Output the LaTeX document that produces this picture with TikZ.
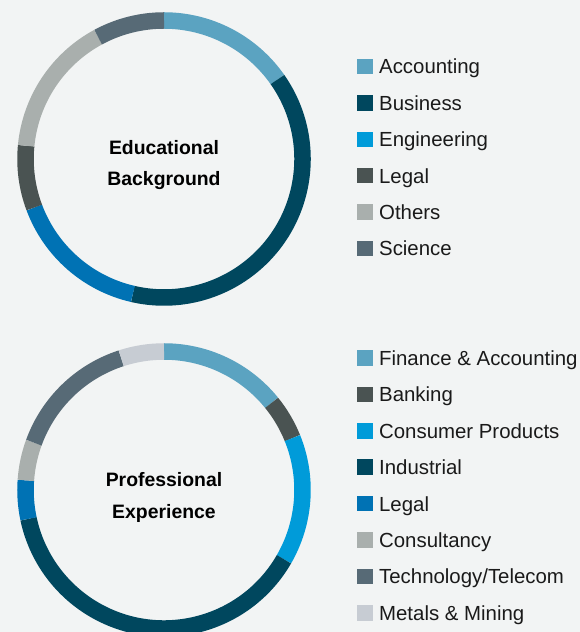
\documentclass[tikz,border=0pt]{standalone}
\usepackage{fontspec}
\setmainfont{Liberation Sans}
\usetikzlibrary{positioning}

\definecolor{bggray}{HTML}{F2F4F4}
\definecolor{accblue}{HTML}{5BA3C1}
\definecolor{darkteal}{HTML}{00475E}
\definecolor{brightblue}{HTML}{009BD9}
\definecolor{midblue}{HTML}{0072B4}
\definecolor{darkgray}{HTML}{4A5352}
\definecolor{lightgray}{HTML}{A9AFAD}
\definecolor{slate}{HTML}{576A76}
\definecolor{palegray}{HTML}{C7CCD3}
\definecolor{textgray}{HTML}{1A1A1A}

\begin{document}
\begin{tikzpicture}[x=1pt,y=1pt,
  seg/.style={line width=16.5pt},
  key/.style={minimum size=15.5pt, inner sep=0pt},
  keytext/.style={inner sep=0pt, text height=15pt, text depth=0pt, text=textgray,
    font=\fontsize{20.4pt}{24pt}\selectfont},
  title/.style={align=center, inner sep=0pt,
    font=\bfseries\fontsize{19.4pt}{31.5pt}\selectfont}]
\fill[bggray] (0,0) rectangle (580,632);
\useasboundingbox (0,0) rectangle (580,632);

% educational background ring
\coordinate (edu) at (164,473);
\draw[seg, accblue] (edu) ++(90:138.5pt) arc[start angle=90, end angle=35, radius=138.5pt];
\draw[seg, darkteal] (edu) ++(35:138.5pt) arc[start angle=35, end angle=-103, radius=138.5pt];
\draw[seg, midblue] (edu) ++(-103:138.5pt) arc[start angle=-103, end angle=-159.5, radius=138.5pt];
\draw[seg, darkgray] (edu) ++(-159.5:138.5pt) arc[start angle=-159.5, end angle=-185.5, radius=138.5pt];
\draw[seg, lightgray] (edu) ++(-185.5:138.5pt) arc[start angle=-185.5, end angle=-241.6, radius=138.5pt];
\draw[seg, slate] (edu) ++(-241.6:138.5pt) arc[start angle=-241.6, end angle=-270, radius=138.5pt];
\node[title] (edutitle) at ([yshift=-6pt]edu) {Educational\\Background};

% professional experience ring
\coordinate (pro) at (164,142);
\draw[seg, accblue] (pro) ++(90:138.5pt) arc[start angle=90, end angle=39, radius=138.5pt];
\draw[seg, darkgray] (pro) ++(39:138.5pt) arc[start angle=39, end angle=22, radius=138.5pt];
\draw[seg, brightblue] (pro) ++(22:138.5pt) arc[start angle=22, end angle=-30, radius=138.5pt];
\draw[seg, darkteal] (pro) ++(-30:138.5pt) arc[start angle=-30, end angle=-168, radius=138.5pt];
\draw[seg, midblue] (pro) ++(-168:138.5pt) arc[start angle=-168, end angle=-184, radius=138.5pt];
\draw[seg, lightgray] (pro) ++(-184:138.5pt) arc[start angle=-184, end angle=-200, radius=138.5pt];
\draw[seg, slate] (pro) ++(-200:138.5pt) arc[start angle=-200, end angle=-252, radius=138.5pt];
\draw[seg, palegray] (pro) ++(-252:138.5pt) arc[start angle=-252, end angle=-270, radius=138.5pt];
\node[title] (protitle) at ([yshift=-7.5pt]pro) {Professional\\Experience};

% legend, top
\node[key, fill=accblue] (ea) at (365,565.5) {};
\node[key, fill=darkteal, below=20.5pt of ea] (eb) {};
\node[key, fill=brightblue, below=20.5pt of eb] (ec) {};
\node[key, fill=darkgray, below=20.5pt of ec] (ed) {};
\node[key, fill=lightgray, below=20.5pt of ed] (ee) {};
\node[key, fill=slate, below=20.5pt of ee] (ef) {};
\node[keytext, right=6pt of ea] {Accounting};
\node[keytext, right=6pt of eb] {Business};
\node[keytext, right=6pt of ec] {Engineering};
\node[keytext, right=6pt of ed] {Legal};
\node[keytext, right=6pt of ee] {Others};
\node[keytext, right=6pt of ef] {Science};

% legend, bottom
\node[key, fill=accblue] (pa) at (365,274) {};
\node[key, fill=darkgray, below=20.5pt of pa] (pb) {};
\node[key, fill=brightblue, below=20.5pt of pb] (pc) {};
\node[key, fill=darkteal, below=20.5pt of pc] (pd) {};
\node[key, fill=midblue, below=20.5pt of pd] (pe) {};
\node[key, fill=lightgray, below=20.5pt of pe] (pf) {};
\node[key, fill=slate, below=20.5pt of pf] (pg) {};
\node[key, fill=palegray, below=20.5pt of pg] (ph) {};
\node[keytext, right=6pt of pa] {Finance \& Accounting};
\node[keytext, right=6pt of pb] {Banking};
\node[keytext, right=6pt of pc] {Consumer Products};
\node[keytext, right=6pt of pd] {Industrial};
\node[keytext, right=6pt of pe] {Legal};
\node[keytext, right=6pt of pf] {Consultancy};
\node[keytext, right=6pt of pg] {Technology/Telecom};
\node[keytext, right=6pt of ph] {Metals \& Mining};
\end{tikzpicture}
\end{document}
